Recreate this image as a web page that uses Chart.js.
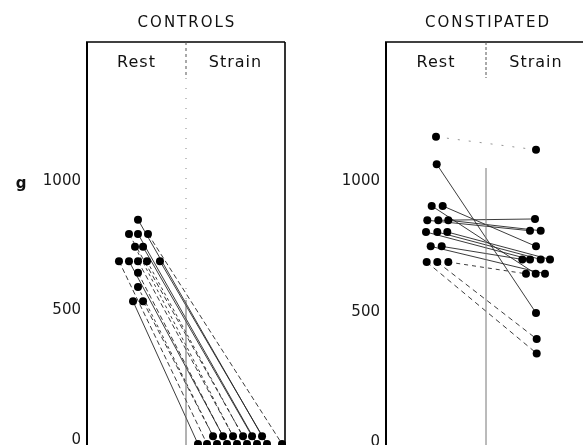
<!DOCTYPE html>
<html>
<head>
<meta charset="utf-8">
<script src="https://cdn.jsdelivr.net/npm/chart.js@4.4.1/dist/chart.umd.min.js"></script>
<style>
  html, body { margin: 0; padding: 0; background: #fff; }
  #wrap { position: relative; width: 583px; height: 445px; overflow: hidden; }
  canvas { position: absolute; top: 0; }
</style>
</head>
<body>
<div id="wrap">
  <canvas id="controls" width="300" height="445" style="left:0"></canvas>
  <canvas id="constipated" width="283" height="445" style="left:300px"></canvas>
</div>
<script>
// Tick values and phase labels
const yTicks = [0, 500, 1000];
const phaseLabels = ["Rest", "Strain"];

// CONTROLS: paired values (g), index i of rest goes with index i of strain
// *Pos = horizontal jitter inside the column (0..1 Rest, 1..2 Strain)
const ctrlRestPos = [0.515, 0.424, 0.515, 0.616, 0.485, 0.566, 0.323, 0.424, 0.515, 0.606, 0.737, 0.515, 0.515, 0.465, 0.566];
const ctrlRest = [850, 795, 795, 795, 745, 745, 690, 690, 690, 690, 690, 645, 590, 535, 535];
const ctrlStrainPos = [1.768, 1.576, 1.717, 1.970, 1.515, 1.667, 1.212, 1.374, 1.475, 1.616, 1.818, 1.414, 1.313, 1.121, 1.273];
const ctrlStrain = [15, 15, -15, -15, -15, 15, -15, 15, 15, -15, -15, -15, -15, -15, 15];

// CONSTIPATED
const constRestPos = [0.50, 0.507, 0.457, 0.567, 0.413, 0.523, 0.623, 0.40, 0.513, 0.613, 0.447, 0.557, 0.407, 0.513, 0.623];
const constRest = [1170, 1065, 905, 905, 850, 850, 850, 805, 805, 805, 750, 750, 690, 690, 690];
const constStrainPos = [1.50, 1.50, 1.497, 1.50, 1.44, 1.49, 1.547, 1.44, 1.547, 1.64, 1.59, 1.363, 1.507, 1.507, 1.40];
const constStrain = [1120, 495, 645, 750, 810, 855, 810, 700, 700, 700, 645, 700, 340, 395, 645];

// line dash per pair (style only)
const ctrlDash = [null, [5, 3], null, [5, 3], [3, 3], null, [5, 3], null, [5, 3], [3, 3], null, [5, 3], [3, 3], null, [5, 3]];
const constDash = [[2, 9], null, null, null, null, null, null, null, null, null, null, null, [5, 4], [5, 4], [4, 4]];

const FONT = "'DejaVu Sans', sans-serif";

// Build one line dataset per pair, plus one dataset holding all the dots on top
function buildDatasets(restPos, rest, strainPos, strain, dashes) {
    const lines = rest.map((v, i) => ({
        data: [{ x: restPos[i], y: v }, { x: strainPos[i], y: strain[i] }],
        showLine: true,
        borderColor: dashes[i] && dashes[i][1] > 6 ? "#888" : "#262626",
        borderWidth: 0.9,
        borderDash: dashes[i] || [],
        pointRadius: 0,
        order: 1,
        clip: false,
    }));
    const dots = {
        data: rest.map((v, i) => ({ x: restPos[i], y: v }))
            .concat(strain.map((v, i) => ({ x: strainPos[i], y: v }))),
        showLine: false,
        pointRadius: 4,
        pointBackgroundColor: "#000",
        pointBorderWidth: 0,
        order: 0,
        clip: false,
    };
    return [dots].concat(lines);
}

// Frame, divider, titles and Rest/Strain labels
const framePlugin = {
    id: "frame",
    afterDatasetsDraw(chart, args, opts) {
        const { ctx, chartArea: a, scales: { x } } = chart;
        const H = chart.height;
        const mid = x.getPixelForValue(1);
        ctx.save();
        ctx.strokeStyle = "#000";
        ctx.fillStyle = "#111";

        // top and side lines
        ctx.lineWidth = 1.5;
        ctx.beginPath();
        ctx.moveTo(a.left - 1, a.top);
        ctx.lineTo(a.right, a.top);
        ctx.stroke();
        ctx.lineWidth = 2;
        ctx.beginPath();
        ctx.moveTo(a.left, a.top);
        ctx.lineTo(a.left, H);
        ctx.stroke();
        if (opts.rightEdge) {
            ctx.lineWidth = 1.6;
            ctx.beginPath();
            ctx.moveTo(a.right, a.top);
            ctx.lineTo(a.right, H);
            ctx.stroke();
        }

        // divider between Rest and Strain
        opts.divider.forEach(seg => {
            ctx.strokeStyle = seg.color;
            ctx.lineWidth = 1;
            ctx.setLineDash(seg.dash);
            ctx.beginPath();
            ctx.moveTo(mid, seg.from);
            ctx.lineTo(mid, seg.to);
            ctx.stroke();
        });
        ctx.setLineDash([]);

        // title
        ctx.textAlign = "center";
        ctx.textBaseline = "middle";
        ctx.letterSpacing = "2px";
        ctx.font = "15px " + FONT;
        ctx.fillText(opts.title, mid + opts.titleShift, 23);

        // column labels
        ctx.letterSpacing = "1px";
        ctx.font = "16px " + FONT;
        phaseLabels.forEach((t, i) => {
            ctx.fillText(t, x.getPixelForValue(0.5 + i), 63);
        });

        // unit label
        if (opts.unit) {
            ctx.letterSpacing = "0px";
            ctx.font = "bold 15px " + FONT;
            ctx.fillText(opts.unit, 21, 184);
        }
        ctx.restore();
    },
};

function makeChart(id, datasets, yMin, yMax, xMax, axisWidth, padRight, frameOpts) {
    return new Chart(document.getElementById(id), {
        type: "scatter",
        data: { datasets: datasets },
        plugins: [framePlugin],
        options: {
            responsive: false,
            animation: false,
            layout: {
                autoPadding: false,
                padding: { top: 42, right: padRight, bottom: 0, left: 0 },
            },
            scales: {
                x: { type: "linear", min: 0, max: xMax, display: false },
                y: {
                    min: yMin,
                    max: yMax,
                    afterBuildTicks: s => { s.ticks = yTicks.map(v => ({ value: v })); },
                    afterFit: s => {
                        s.width = axisWidth;
                        s.paddingTop = 0;
                        s.paddingBottom = 0;
                    },
                    grid: { display: false, drawTicks: false },
                    border: { display: false },
                    ticks: {
                        font: { family: FONT, size: 15 },
                        color: "#1a1a1a",
                        padding: 6,
                        callback: v => String(v),
                    },
                },
            },
            plugins: {
                legend: { display: false },
                tooltip: { enabled: false },
                frame: frameOpts,
            },
        },
    });
}

makeChart("controls",
    buildDatasets(ctrlRestPos, ctrlRest, ctrlStrainPos, ctrlStrain, ctrlDash),
    -19, 1535, 2, 87, 15,
    {
        title: "CONTROLS", titleShift: 1, rightEdge: true, unit: "g",
        divider: [
            { from: 42, to: 78, dash: [3, 3], color: "#555" },
            { from: 78, to: 300, dash: [1, 9], color: "#888" },
            { from: 300, to: 445, dash: [], color: "#666" },
        ],
    });

makeChart("constipated",
    buildDatasets(constRestPos, constRest, constStrainPos, constStrain, constDash),
    -11, 1533, 1.97, 86, 0,
    {
        title: "CONSTIPATED", titleShift: 2, rightEdge: false, unit: null,
        divider: [
            { from: 42, to: 78, dash: [3, 2], color: "#555" },
            { from: 168, to: 445, dash: [], color: "#777" },
        ],
    });
</script>
</body>
</html>
